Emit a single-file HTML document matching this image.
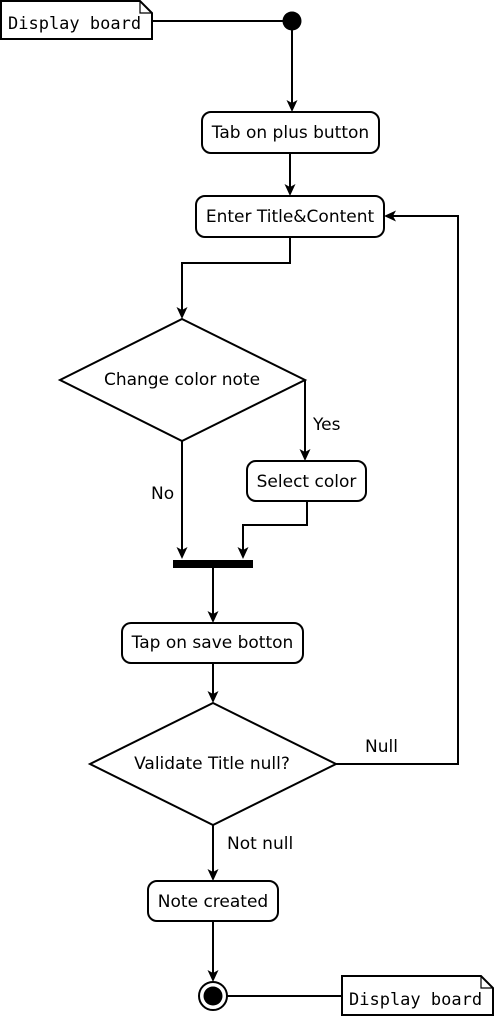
<!DOCTYPE html>
<html><head><meta charset="utf-8"><style>
html,body{margin:0;padding:0;background:#fff;}
svg{display:block;}
text{font-family:"DejaVu Sans","Liberation Sans",sans-serif;font-size:17px;fill:#000;}
.m{font-family:"DejaVu Sans Mono","Liberation Mono",monospace;font-size:17px;}
</style></head><body>
<svg width="495" height="1017" viewBox="0 0 495 1017" xmlns="http://www.w3.org/2000/svg">
<g fill="none" stroke="#000" stroke-width="2">
<path d="M1,1 H140 L152,13 V39 H1 Z" fill="#fff"/>
<path d="M140,1 V13 H152" stroke-width="1.2"/>
<line x1="152" y1="21" x2="283" y2="21"/>
<line x1="292" y1="21" x2="292" y2="110"/>
<rect x="202" y="112" width="177" height="41" rx="9"/>
<line x1="290" y1="153" x2="290" y2="194"/>
<rect x="196" y="196" width="188" height="41" rx="9"/>
<polyline points="290,237 290,263 182,263 182,317"/>
<polygon points="182,319 305,380 182,441 60,380"/>
<line x1="305" y1="380" x2="305" y2="459"/>
<rect x="247" y="461" width="119" height="40" rx="9"/>
<line x1="182" y1="441" x2="182" y2="557"/>
<polyline points="307,501 307,525 243,525 243,557"/>
<line x1="213" y1="567" x2="213" y2="621"/>
<rect x="122" y="623" width="181" height="40" rx="9"/>
<line x1="213" y1="663" x2="213" y2="701"/>
<polygon points="213,703 336,764 213,825 90,764"/>
<polyline points="336,764 458,764 458,216 386,216"/>
<line x1="213" y1="825" x2="213" y2="879"/>
<rect x="148" y="881" width="130" height="40" rx="9"/>
<line x1="213" y1="921" x2="213" y2="980"/>
<circle cx="213" cy="996" r="14"/>
<line x1="227" y1="996" x2="342" y2="996"/>
<path d="M342,976 H481 L493,988 V1015 H342 Z" fill="#fff"/>
<path d="M481,976 V988 H493" stroke-width="1.2"/>
</g>
<circle cx="292" cy="21" r="9.5" fill="#000"/>
<circle cx="213" cy="996" r="9.5" fill="#000"/>
<rect x="173" y="560" width="80" height="8" fill="#000"/>
<g fill="#000">
<path d="M292,112 l-5.5,-12 l5.5,3 l5.5,-3 z"/>
<path d="M290,196 l-5.5,-12 l5.5,3 l5.5,-3 z"/>
<path d="M182,319 l-5.5,-12 l5.5,3 l5.5,-3 z"/>
<path d="M305,461 l-5.5,-12 l5.5,3 l5.5,-3 z"/>
<path d="M182,559 l-5.5,-12 l5.5,3 l5.5,-3 z"/>
<path d="M243,559 l-5.5,-12 l5.5,3 l5.5,-3 z"/>
<path d="M213,623 l-5.5,-12 l5.5,3 l5.5,-3 z"/>
<path d="M213,703 l-5.5,-12 l5.5,3 l5.5,-3 z"/>
<path d="M213,881 l-5.5,-12 l5.5,3 l5.5,-3 z"/>
<path d="M213,982 l-5.5,-12 l5.5,3 l5.5,-3 z"/>
<path d="M384,216 l12,-5.5 l-3,5.5 l3,5.5 z"/>
</g>
<text class="m" font-size="17" x="8" y="29">Display board</text>
<text class="m" font-size="17" x="349" y="1005">Display board</text>
<text font-size="17" x="290.5" y="138" text-anchor="middle">Tab on plus button</text>
<text font-size="17" x="290" y="222" text-anchor="middle">Enter Title&amp;Content</text>
<text font-size="17" x="182" y="385" text-anchor="middle">Change color note</text>
<text font-size="17" x="306.5" y="487" text-anchor="middle">Select color</text>
<text font-size="17" x="212.5" y="648" text-anchor="middle">Tap on save botton</text>
<text font-size="17" x="212" y="769" text-anchor="middle">Validate Title null?</text>
<text font-size="17" x="213" y="907" text-anchor="middle">Note created</text>
<text font-size="17" x="313" y="430">Yes</text>
<text font-size="17" x="151" y="499">No</text>
<text font-size="17" x="365" y="752">Null</text>
<text font-size="17" x="227" y="849">Not null</text>
</svg>
</body></html>
